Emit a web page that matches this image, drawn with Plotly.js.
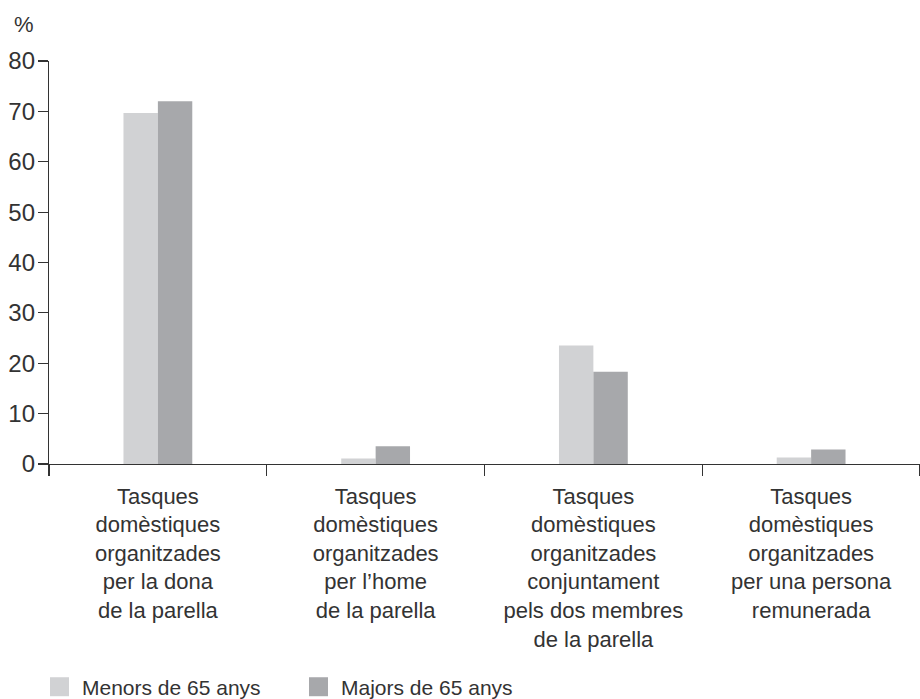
<!DOCTYPE html>
<html>
<head>
<meta charset="utf-8">
<script src="https://cdn.plot.ly/plotly-3.0.1.min.js"></script>
<style>html,body{margin:0;padding:0;background:#fff;}#chart{width:920px;height:699px;}</style>
</head>
<body>
<div id="chart"></div>
<script>
const categories = [
  "Tasques<br>domèstiques<br>organitzades<br>per la dona<br>de la parella",
  "Tasques<br>domèstiques<br>organitzades<br>per l’home<br>de la parella",
  "Tasques<br>domèstiques<br>organitzades<br>conjuntament<br>pels dos membres<br>de la parella",
  "Tasques<br>domèstiques<br>organitzades<br>per una persona<br>remunerada"
];
const seriesNames = ["Menors de 65 anys", "Majors de 65 anys"];
const seriesColors = ["#d1d2d4", "#a7a8ab"];
const menors = [69.7, 1.1, 23.5, 1.3];
const majors = [72.0, 3.5, 18.3, 2.9];
const yTicks = [0, 10, 20, 30, 40, 50, 60, 70, 80];

const font = "Liberation Sans, Arial, sans-serif";
const ink = "#333333";

const W = 920, H = 699;
const mL = 49, mR = 0, mT = 61, mB = 234.5;
const pw = W - mL - mR, ph = H - mT - mB;
const px = v => (v - mL) / pw;
const py = v => (H - mB - v) / ph;

const data = [
  {type: "bar", name: seriesNames[0], x: categories, y: menors, marker: {color: seriesColors[0]}, hoverinfo: "skip"},
  {type: "bar", name: seriesNames[1], x: categories, y: majors, marker: {color: seriesColors[1]}, hoverinfo: "skip"}
];

// legend drawn as swatches + text
const legendX = [50, 309];
const shapes = [], annotations = [];
seriesNames.forEach((n, i) => {
  shapes.push({type: "rect", xref: "paper", yref: "paper",
    x0: px(legendX[i]), x1: px(legendX[i] + 19), y0: py(697), y1: py(678),
    fillcolor: seriesColors[i], line: {width: 0}});
  annotations.push({text: n, xref: "paper", yref: "paper", x: px(legendX[i] + 30), y: py(688),
    xanchor: "left", yanchor: "middle", showarrow: false, font: {size: 21, color: ink}});
});
annotations.push({text: "%", xref: "paper", yref: "paper", x: px(12), y: py(24), xanchor: "left", yanchor: "middle",
  showarrow: false, font: {size: 22, color: ink}});

const layout = {
  width: W, height: H,
  margin: {l: mL, r: mR, t: mT, b: mB},
  paper_bgcolor: "#ffffff", plot_bgcolor: "#ffffff",
  font: {family: font, color: ink, size: 22},
  barmode: "group", bargap: 0.684, bargroupgap: 0,
  showlegend: false,
  xaxis: {type: "category", range: [-0.5, 3.5], showline: true, linecolor: ink, linewidth: 1.2,
          ticks: "outside", tickson: "boundaries", ticklen: 11, tickcolor: ink, tickwidth: 1.2,
          showgrid: false, zeroline: false, tickfont: {size: 22, color: ink}, ticklabelstandoff: 12, fixedrange: true,
          automargin: false},
  yaxis: {range: [0, 80], tickvals: yTicks, ticktext: yTicks.map(String), showline: true, linecolor: ink, linewidth: 1.2,
          ticks: "outside", ticklen: 10, tickcolor: ink, tickwidth: 1.2, showgrid: false, zeroline: false,
          tickfont: {size: 24, color: ink}, ticklabelstandoff: -2, fixedrange: true, automargin: false},
  shapes: shapes,
  annotations: annotations
};

Plotly.newPlot("chart", data, layout, {displayModeBar: false, staticPlot: true});
</script>
</body>
</html>
